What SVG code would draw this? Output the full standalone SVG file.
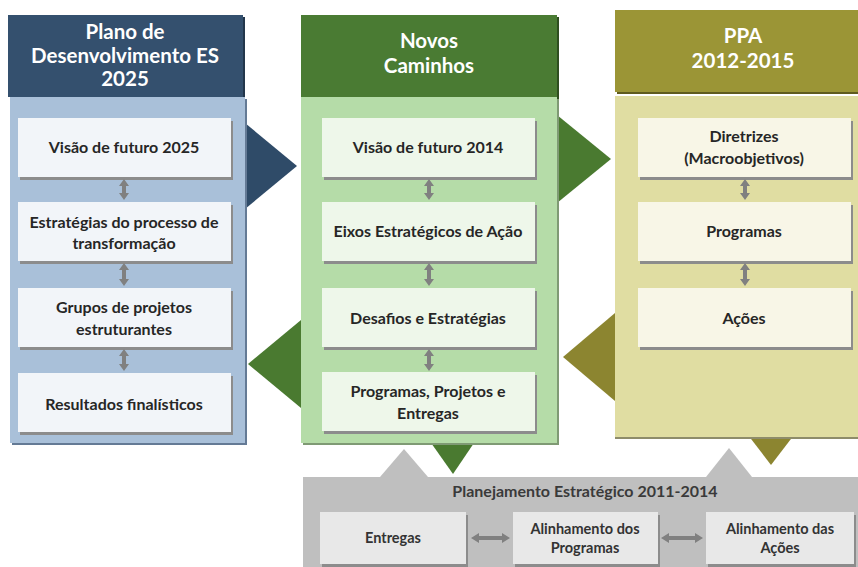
<svg xmlns="http://www.w3.org/2000/svg" xmlns:xlink="http://www.w3.org/1999/xlink" width="858" height="567" viewBox="0 0 858 567">
<style>
  text { font-family: Lato, "Liberation Sans", sans-serif; font-weight: 700; text-anchor: middle; }
  .hd { fill: #ffffff; font-size: 20.5px; }
  .in { fill: #262626; font-size: 16px; }
  .bt { fill: #333333; font-size: 14.5px; }
  .pt { fill: #3a3a3a; font-size: 16px; }
  .shadow { fill: #8c8c8c; }
  .arrow { fill: #808080; }
  .bluebox { fill: #f2f5f9; }
  .greenbox { fill: #eef7ea; }
  .olivebox { fill: #f8f6e7; }
  .graybox { fill: #e8e8e8; }
</style>
<defs>
  <path id="va1" d="M0,179 L5,186 L2,186 L2,193 L5,193 L0,200 L-5,193 L-2,193 L-2,186 L-5,186 Z"/>
  <path id="va2" d="M0,263 L5,270 L2,270 L2,279 L5,279 L0,286 L-5,279 L-2,279 L-2,270 L-5,270 Z"/>
  <path id="va3" d="M0,349 L5,356 L2,356 L2,364 L5,364 L0,371 L-5,364 L-2,364 L-2,356 L-5,356 Z"/>
</defs>
<rect width="858" height="567" fill="#ffffff"/>

<!-- flow triangles -->
<g id="triangles">
  <polygon points="245,123 297,166 245,209" fill="#2f4b68"/>
  <polygon points="557,115 611,159 557,203" fill="#4a7a30"/>
  <polygon points="301,320 248,364 301,408" fill="#4a7a30"/>
  <polygon points="615,313 563,357 615,401" fill="#8c8530"/>
  <polygon points="380,477 404,449 428,477" fill="#bfbfbf"/>
  <polygon points="706,477 729,448 752,477" fill="#bfbfbf"/>
  <polygon points="429,440 476,440 453,474" fill="#4a7a30"/>
  <polygon points="748,435 794,435 771,465" fill="#8c8530"/>
</g>

<!-- Blue column -->
<g id="plano-es-2025">
  <rect x="10" y="17" width="235" height="82" fill="#22364b"/>
  <rect x="8" y="15" width="235" height="82" fill="#34506e"/>
  <rect x="12" y="99" width="235" height="346" fill="#647a95"/>
  <rect x="10" y="97" width="235" height="346" fill="#a9c0d9"/>
  <text class="hd" x="125" y="39">Plano de</text>
  <text class="hd" x="125" y="63">Desenvolvimento ES</text>
  <text class="hd" x="125" y="86">2025</text>
</g>
<g id="visao-2025">
  <rect class="shadow" x="20" y="121" width="213" height="59"/>
  <rect class="bluebox" x="18" y="118" width="213" height="59"/>
  <text class="in" x="124" y="153">Visão de futuro 2025</text>
</g>
<g id="estrategias-transformacao">
  <rect class="shadow" x="20" y="205" width="213" height="59"/>
  <rect class="bluebox" x="18" y="202" width="213" height="59"/>
  <text class="in" x="124" y="228">Estratégias do processo de</text>
  <text class="in" x="124" y="249">transformação</text>
</g>
<g id="grupos-projetos">
  <rect class="shadow" x="20" y="291" width="213" height="59"/>
  <rect class="bluebox" x="18" y="288" width="213" height="59"/>
  <text class="in" x="124" y="313">Grupos de projetos</text>
  <text class="in" x="124" y="335">estruturantes</text>
</g>
<g id="resultados">
  <rect class="shadow" x="20" y="376" width="213" height="59"/>
  <rect class="bluebox" x="18" y="373" width="213" height="59"/>
  <text class="in" x="124" y="410">Resultados finalísticos</text>
</g>

<!-- Green column -->
<g id="novos-caminhos">
  <rect x="303" y="17" width="256" height="82" fill="#2f4f20"/>
  <rect x="301" y="15" width="256" height="82" fill="#4a7b33"/>
  <rect x="303" y="99" width="256" height="346" fill="#7f9a74"/>
  <rect x="301" y="97" width="256" height="346" fill="#b5dca8"/>
  <text class="hd" x="429" y="48">Novos</text>
  <text class="hd" x="429" y="73">Caminhos</text>
</g>
<g id="visao-2014">
  <rect class="shadow" x="324" y="121" width="213" height="59"/>
  <rect class="greenbox" x="322" y="118" width="213" height="59"/>
  <text class="in" x="428" y="153">Visão de futuro 2014</text>
</g>
<g id="eixos">
  <rect class="shadow" x="324" y="205" width="213" height="59"/>
  <rect class="greenbox" x="322" y="202" width="213" height="59"/>
  <text class="in" x="428" y="237">Eixos Estratégicos de Ação</text>
</g>
<g id="desafios">
  <rect class="shadow" x="324" y="291" width="213" height="59"/>
  <rect class="greenbox" x="322" y="288" width="213" height="59"/>
  <text class="in" x="428" y="324">Desafios e Estratégias</text>
</g>
<g id="programas-projetos">
  <rect class="shadow" x="324" y="375" width="213" height="59"/>
  <rect class="greenbox" x="322" y="372" width="213" height="59"/>
  <text class="in" x="428" y="397">Programas, Projetos e</text>
  <text class="in" x="428" y="419">Entregas</text>
</g>

<!-- Olive column -->
<g id="ppa">
  <rect x="617" y="12" width="243" height="82" fill="#5f5b1f"/>
  <rect x="615" y="10" width="243" height="82" fill="#9b9536"/>
  <rect x="615" y="98" width="245" height="341" fill="#8e8c6a"/>
  <rect x="615" y="96" width="245" height="341" fill="#e0dda2"/>
  <text class="hd" x="743" y="43">PPA</text>
  <text class="hd" x="743" y="68">2012-2015</text>
</g>
<g id="diretrizes">
  <rect class="shadow" x="640" y="121" width="213" height="59"/>
  <rect class="olivebox" x="638" y="118" width="213" height="59"/>
  <text class="in" x="744" y="142">Diretrizes</text>
  <text class="in" x="744" y="164">(Macroobjetivos)</text>
</g>
<g id="programas">
  <rect class="shadow" x="640" y="205" width="213" height="59"/>
  <rect class="olivebox" x="638" y="202" width="213" height="59"/>
  <text class="in" x="744" y="237">Programas</text>
</g>
<g id="acoes">
  <rect class="shadow" x="640" y="291" width="213" height="59"/>
  <rect class="olivebox" x="638" y="288" width="213" height="59"/>
  <text class="in" x="744" y="324">Ações</text>
</g>

<!-- Bottom panel -->
<g id="planejamento-estrategico">
  <rect x="303" y="477" width="560" height="95" fill="#bfbfbf"/>
  <text class="pt" x="585" y="497">Planejamento Estratégico 2011-2014</text>
</g>
<g id="entregas">
  <rect class="shadow" x="322" y="515" width="146" height="52"/>
  <rect class="graybox" x="320" y="512" width="146" height="52"/>
  <text class="bt" x="393" y="543">Entregas</text>
</g>
<g id="alinhamento-programas">
  <rect class="shadow" x="515" y="515" width="145" height="52"/>
  <rect class="graybox" x="513" y="512" width="145" height="52"/>
  <text class="bt" x="585" y="534">Alinhamento dos</text>
  <text class="bt" x="585" y="553">Programas</text>
</g>
<g id="alinhamento-acoes">
  <rect class="shadow" x="708" y="515" width="148" height="52"/>
  <rect class="graybox" x="706" y="512" width="148" height="52"/>
  <text class="bt" x="780" y="534">Alinhamento das</text>
  <text class="bt" x="780" y="553">Ações</text>
</g>

<!-- connectors -->
<g id="connectors" class="arrow">
  <use xlink:href="#va1" x="124"/>
  <use xlink:href="#va2" x="124"/>
  <use xlink:href="#va3" x="124"/>
  <use xlink:href="#va1" x="429"/>
  <use xlink:href="#va2" x="429"/>
  <use xlink:href="#va3" x="429"/>
  <use xlink:href="#va1" x="745"/>
  <use xlink:href="#va2" x="745"/>
  <path d="M471,538 L479,533 L479,536 L502,536 L502,533 L510,538 L502,543 L502,540 L479,540 L479,543 Z"/>
  <path d="M661,538 L669,533 L669,536 L695,536 L695,533 L703,538 L695,543 L695,540 L669,540 L669,543 Z"/>
</g>
</svg>
